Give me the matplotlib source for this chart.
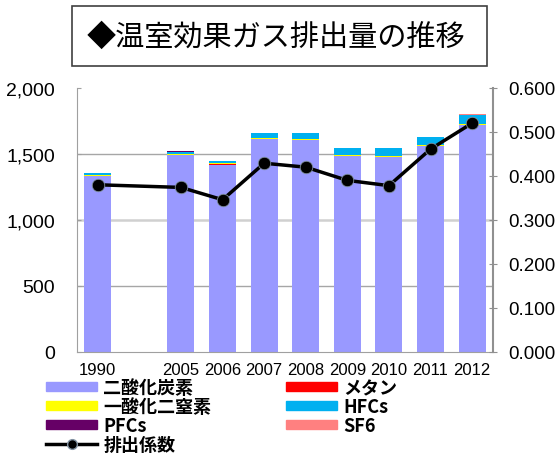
import numpy as np
import matplotlib
matplotlib.use('Agg')
import matplotlib.pyplot as plt
from matplotlib.lines import Line2D
from matplotlib.patches import Patch, Rectangle

plt.rcParams['font.family'] = ['Noto Sans CJK JP', 'DejaVu Sans']

nan = np.nan
years = ['1990', '', '2005', '2006', '2007', '2008', '2009', '2010', '2011', '2012']
co2 = [1335, nan, 1492, 1420, 1615, 1606, 1484, 1479, 1562, 1717]
ch4 = [0.5, nan, 0.5, 0.5, 0.5, 0.5, 0.5, 0.5, 0.5, 0.5]
n2o = [8, nan, 8, 8, 9, 9, 8, 8, 8, 7]
hfcs = [14, nan, 18, 15, 36, 42, 54, 59, 60, 68]
pfcs = [0.3, nan, 0.3, 0.3, 0.3, 0.3, 0.3, 0.3, 0.3, 5]
sf6 = [1, nan, 1, 1, 1, 1, 1, 1, 1, 2]
factor = [0.380, nan, 0.374, 0.346, 0.429, 0.420, 0.390, 0.378, 0.461, 0.520]

series = [
    ('二酸化炭素', co2, '#9999FF'),
    ('メタン', ch4, '#FF0000'),
    ('一酸化二窒素', n2o, '#FFFF00'),
    ('HFCs', hfcs, '#00B0F0'),
    ('PFCs', pfcs, '#660066'),
    ('SF6', sf6, '#FF8080'),
]

fig = plt.figure(figsize=(5.56, 4.56), dpi=100)
ax = fig.add_axes([0.1385, 0.2259, 0.748, 0.579])

x = np.arange(len(years))
bottom = np.zeros(len(years))
for name, vals, color in series:
    v = np.nan_to_num(np.array(vals, dtype=float))
    ax.bar(x, v, width=0.65, bottom=bottom, color=color, edgecolor='none', zorder=2)
    bottom += v

ax.set_xlim(-0.5, len(years) - 0.5)
ax.set_ylim(0, 2000)
ax.set_yticks([0, 500, 1000, 1500, 2000])
ax.set_yticklabels(['0', '500', '1,000', '1,500', '2,000'])
ax.set_xticks(x)
ax.set_xticklabels(years)
for yv in (500, 1500):
    ax.axhline(yv, color='#a6a6a6', lw=1.0, zorder=1)
ax.axhline(1000, color='#d0d0d0', lw=1.8, zorder=1)

ax.spines['top'].set_visible(False)
ax.spines['right'].set_visible(False)
ax.spines['left'].set_color('#a0a0a0')
ax.spines['bottom'].set_color('#a0a0a0')
ax.tick_params(axis='y', direction='in', length=3, color='#a0a0a0', pad=16,
               labelsize=14)
ax.tick_params(axis='x', length=0, pad=7, labelsize=12)
for lab in ax.get_yticklabels() + ax.get_xticklabels():
    lab.set_family(['Liberation Sans', 'DejaVu Sans'])

ax2 = ax.twinx()
ax2.set_ylim(0, 0.6)
ticks2 = np.arange(0, 0.61, 0.1)
ax2.set_yticks(ticks2)
ax2.set_yticklabels([f'{t:.3f}' for t in ticks2])
for s in ('top', 'left', 'bottom'):
    ax2.spines[s].set_visible(False)
ax2.spines['right'].set_color('#909090')
ax2.spines['right'].set_linewidth(1.5)
ax2.tick_params(axis='y', direction='inout', length=6, color='#909090', pad=8,
                labelsize=13.5)
for lab in ax2.get_yticklabels():
    lab.set_family(['Liberation Sans', 'DejaVu Sans'])

f = np.array(factor, dtype=float)
m = ~np.isnan(f)
ax2.plot(x[m], f[m], color='black', lw=2.5, marker='o', markersize=9,
         markerfacecolor='black', markeredgecolor='#8090a0', markeredgewidth=0.6,
         zorder=3)

# title box
fig.patches.append(Rectangle((72 / 556, 1 - 67 / 456), 415 / 556, 60 / 456,
                             transform=fig.transFigure, fill=False,
                             edgecolor='#404040', lw=1.2))
fig.text(276 / 556, 1 - 38 / 456, '◆温室効果ガス排出量の推移', ha='center',
         va='center', fontsize=21)

line_handle = Line2D([], [], color='black', lw=2.5, marker='o', markersize=7,
                     markerfacecolor='black', markeredgecolor='#8090a0',
                     label='排出係数')
col1 = [Patch(color=series[0][2], label=series[0][0]),
        Patch(color=series[2][2], label=series[2][0]),
        Patch(color=series[4][2], label=series[4][0]),
        line_handle]
col2 = [Patch(color=series[1][2], label=series[1][0]),
        Patch(color=series[3][2], label=series[3][0]),
        Patch(color=series[5][2], label=series[5][0])]

legend_kw = dict(loc='upper left', frameon=False,
                 prop={'size': 13, 'weight': 'bold'}, handlelength=2.85,
                 handleheight=0.45, handletextpad=0.32, labelspacing=0.0,
                 borderaxespad=0, borderpad=0)
leg1 = fig.legend(handles=col1, bbox_to_anchor=(46 / 556, 1 - 379 / 456), **legend_kw)
leg2 = fig.legend(handles=col2, bbox_to_anchor=(286 / 556, 1 - 379 / 456), **legend_kw)

fig.savefig('out.png', dpi=100)
